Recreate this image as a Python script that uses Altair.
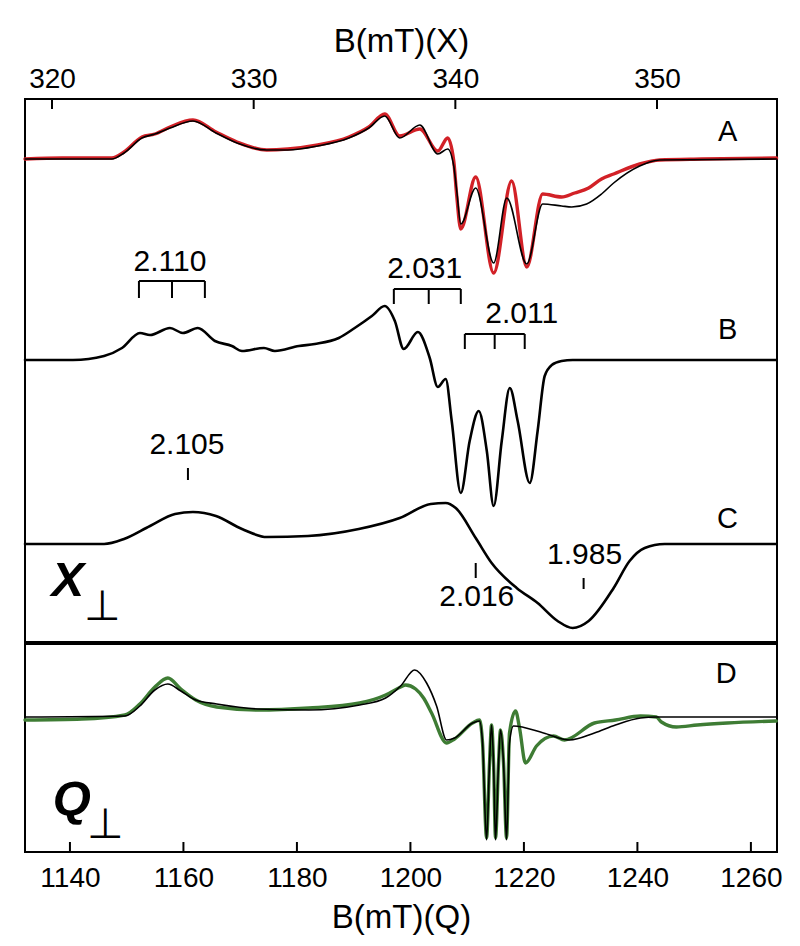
import altair as alt
import pandas as pd

FONT = "Liberation Sans"

# ---------------- axes ----------------
x_ticks = [320, 330, 340, 350]                       # X-band field (mT)
q_ticks = [1140, 1160, 1180, 1200, 1220, 1240, 1260]  # Q-band field (mT)
x_domain = [318.66, 355.95]
q_domain = [1132.08, 1264.6]

# ---------------- trace A: experiment (red) and simulation (black) ----------------
A_sim_B = [318.66, 322.97, 323.57, 324.46, 325.10, 325.85, 326.99, 328.13, 329.17, 330.65,
           331.69, 333.18, 334.72, 335.71, 336.50, 337.24, 338.24, 339.13, 339.62, 339.92,
           340.07, 340.27, 341.01, 341.90, 342.55, 343.54, 344.33, 345.27, 345.77, 346.51,
           347.25, 347.85, 349.14, 350.13, 355.93]
A_sim_I = [0, 0, 6, 21, 25, 31, 38, 26, 16, 9,
           9, 13, 21, 31, 43, 21, 34, 5, 10, -7,
           -32, -65, -29, -104, -39, -105, -45, -47, -48, -45,
           -35, -24, -7, -1, 0]

A_exp_B = [318.66, 320.50, 322.97, 323.57, 324.46, 325.10, 325.85, 326.99, 328.13, 329.17,
           330.65, 331.69, 333.18, 334.72, 335.71, 336.50, 337.24, 338.24, 339.13, 339.62,
           339.92, 340.07, 340.27, 341.01, 341.90, 342.79, 343.54, 344.33, 345.27, 345.92,
           346.61, 347.25, 347.85, 349.14, 350.13, 352.21, 355.93]
A_exp_I = [0, 1, 1, 7, 22, 25, 32, 39, 27, 17,
           9, 10, 14, 22, 32, 45, 23, 30, 8, 21,
           -2, -37, -70, -18, -114, -22, -108, -35, -38, -34,
           -29, -20, -15, -5, -1, 0, 1]

# ---------------- trace B: simulation ----------------
B_B = [318.66, 321.04, 322.58, 323.47, 324.36, 324.86, 325.85, 326.49, 327.23, 328.08,
       328.92, 329.42, 330.51, 331.05, 332.24, 333.03, 334.22, 335.01, 335.86, 336.50,
       337.00, 337.44, 338.14, 338.73, 339.13, 339.52, 339.82, 340.27, 340.71, 341.16,
       341.56, 341.90, 342.30, 342.70, 343.09, 343.69, 344.08, 344.43, 344.78, 345.27,
       345.82, 355.93]
B_I = [0, 0, 4, 12, 27, 25, 32, 27, 32, 19,
       14, 9, 12, 9, 14, 16, 22, 32, 44, 54,
       39, 11, 28, 2, -27, -19, -61, -133, -81, -51,
       -91, -146, -81, -28, -61, -123, -71, -16, -5, -1,
       0, 0]

# ---------------- trace C: simulation ----------------
C_B = [318.66, 322.58, 323.57, 324.86, 326.10, 326.99, 328.13, 329.42, 330.65, 332.69,
       335.21, 337.24, 338.78, 339.52, 340.02, 341.01, 341.80, 343.04, 344.08, 345.07,
       345.82, 346.61, 347.85, 348.64, 349.39, 350.38, 355.93]
C_I = [0, 0, 5, 18, 30, 32, 28, 15, 7, 8,
       15, 26, 40, 41, 36, 6, -19, -44, -59, -77,
       -84, -77, -44, -17, -4, 0, 0]

# ---------------- trace D: Q-band experiment (green) and simulation (black) ----------------
D_sim_B = [1132.08, 1149.68, 1152.32, 1154.96, 1157.25, 1159.54, 1162.18, 1165.88, 1173.10, 1182.08,
           1191.06, 1195.63, 1198.27, 1200.74, 1202.85, 1204.61, 1206.37, 1207.78, 1210.95, 1212.18,
           1212.71, 1213.42, 1213.94, 1214.30, 1214.65, 1215.00, 1215.53, 1215.88, 1216.41, 1216.94,
           1217.46, 1218.17, 1223.45, 1228.03, 1232.43, 1236.13, 1240.53, 1243.35, 1264.47]
D_sim_I = [0, 1, 11, 27, 33, 26, 17, 13, 8, 7,
           12, 19, 31, 47, 34, 11, -23, -21, -6, -4,
           -26, -123, -46, -8, -46, -123, -46, -13, -46, -123,
           -26, -9, -16, -23, -16, -8, -1, 0, 0]

D_exp_B = [1132.08, 1142.11, 1149.68, 1152.32, 1154.96, 1157.25, 1159.54, 1162.18, 1165.88, 1173.10,
           1182.08, 1191.06, 1195.63, 1198.27, 1199.15, 1200.92, 1202.32, 1203.73, 1206.37, 1207.78,
           1210.95, 1212.18, 1212.71, 1213.42, 1213.94, 1214.30, 1214.65, 1215.00, 1215.53, 1215.88,
           1216.41, 1216.94, 1217.46, 1218.52, 1219.23, 1220.28, 1222.22, 1225.21, 1227.15, 1232.43,
           1236.13, 1240.53, 1243.35, 1244.23, 1246.87, 1250.56, 1255.85, 1264.47]
D_exp_I = [-3, -2, 2, 13, 30, 39, 28, 17, 10, 7,
           9, 14, 22, 30, 32, 28, 19, 4, -26, -22,
           -6, -3, -26, -121, -46, -8, -46, -121, -46, -13,
           -46, -121, -16, 6, -11, -46, -29, -19, -23, -6,
           -3, 1, 0, -5, -10, -8, -6, -4]

# vertical offsets of the stacked traces (arbitrary units)
OFF_A, OFF_B, OFF_C, OFF_D = 483, 282, 98, 135
TOP_RANGE = [0, 543]
BOT_RANGE = [0, 208]

# ---------------- annotations ----------------
g_text = ["2.110", "2.031", "2.011", "2.105", "2.016", "1.985"]
g_text_B = [325.85, 338.48, 343.29, 326.69, 341.06, 346.41]
g_text_Y = [371, 364, 319, 188, 36, 78]

g_mark_B = [326.74, 341.01, 346.36]
g_mark_Y1 = [162, 64, 53]
g_mark_Y2 = [174, 79, 64]

bracket_x = [[324.31, 325.95, 327.58], [336.95, 338.68, 340.27], [340.47, 341.95, 343.44]]
bracket_top = [361, 353, 308]
bracket_bot = [344, 338, 293]

letters_top = ["A", "B", "C"]
letters_top_B = [353.5, 353.5, 353.5]
letters_top_Y = [501, 303, 114]
letter_D_B, letter_D_Y = 1255.67, 169

W, H_TOP, H_BOT = 752, 543, 208

# ---------------- scales / axes ----------------
xs_top = alt.Scale(domain=x_domain, nice=False, zero=False)
ys_top = alt.Scale(domain=TOP_RANGE, nice=False, zero=False)
xs_bot = alt.Scale(domain=q_domain, nice=False, zero=False)
ys_bot = alt.Scale(domain=BOT_RANGE, nice=False, zero=False)

axis_common = dict(ticks=False, domain=False, grid=False, labelFontSize=28, labelFont=FONT,
                   labelColor="black", titleFontSize=33, titleFont=FONT,
                   titleFontWeight="normal", titleColor="black", labelFlush=False)
axis_top = alt.Axis(orient="top", title="B(mT)(X)", values=x_ticks, format="d",
                    labelPadding=6, titlePadding=7, **axis_common)
axis_bot = alt.Axis(orient="bottom", title="B(mT)(Q)", values=q_ticks, format="d",
                    labelPadding=12, titlePadding=9, **axis_common)


def xt(field="B"):
    return alt.X(f"{field}:Q", scale=xs_top, axis=axis_top)


def yt(field="Y"):
    return alt.Y(f"{field}:Q", scale=ys_top, axis=None)


def xb(field="B"):
    return alt.X(f"{field}:Q", scale=xs_bot, axis=axis_bot)


def yb(field="Y"):
    return alt.Y(f"{field}:Q", scale=ys_bot, axis=None)


def trace(Bs, Is, off):
    return pd.DataFrame({"B": Bs, "Y": [off + v for v in Is]})


# ---------------- top panel ----------------
line_kw = dict(interpolate="monotone", strokeJoin="round", strokeCap="round")
red = alt.Chart(trace(A_exp_B, A_exp_I, OFF_A)).mark_line(color="#d22127", strokeWidth=3.4, **line_kw).encode(x=xt(), y=yt())
blackA = alt.Chart(trace(A_sim_B, A_sim_I, OFF_A)).mark_line(color="black", strokeWidth=1.6, **line_kw).encode(x=xt(), y=yt())
blackB = alt.Chart(trace(B_B, B_I, OFF_B)).mark_line(color="black", strokeWidth=2.6, **line_kw).encode(x=xt(), y=yt())
blackC = alt.Chart(trace(C_B, C_I, OFF_C)).mark_line(color="black", strokeWidth=2.6, **line_kw).encode(x=xt(), y=yt())

ticks_top = alt.Chart(pd.DataFrame({"B": x_ticks})).mark_rule(color="black", strokeWidth=2).encode(
    x=xt(), y=alt.value(0), y2=alt.value(10))

gtxt = alt.Chart(pd.DataFrame({"B": g_text_B, "Y": g_text_Y, "t": g_text})).mark_text(
    font=FONT, fontSize=30, align="center", baseline="alphabetic", color="black").encode(
    x=xt(), y=yt(), text="t:N")

gmarks = alt.Chart(pd.DataFrame({"B": g_mark_B, "Y": g_mark_Y1, "Y2": g_mark_Y2})).mark_rule(
    color="black", strokeWidth=2).encode(x=xt(), y=yt(), y2="Y2:Q")

br_h = pd.DataFrame({"B": [b[0] for b in bracket_x], "B2": [b[2] for b in bracket_x], "Y": bracket_top})
br_v = pd.DataFrame({"B": [x for b in bracket_x for x in b],
                     "Y": [t for t in bracket_top for _ in range(3)],
                     "Y2": [t for t in bracket_bot for _ in range(3)]})
brh = alt.Chart(br_h).mark_rule(color="black", strokeWidth=2).encode(x=xt(), x2="B2:Q", y=yt())
brv = alt.Chart(br_v).mark_rule(color="black", strokeWidth=2).encode(x=xt(), y=yt(), y2="Y2:Q")

let_top = alt.Chart(pd.DataFrame({"B": letters_top_B, "Y": letters_top_Y, "t": letters_top})).mark_text(
    font=FONT, fontSize=29, align="center", baseline="alphabetic", color="black").encode(
    x=xt(), y=yt(), text="t:N")

xperp = alt.Chart(pd.DataFrame({"B": [320.79], "Y": [46], "t": ["X"]})).mark_text(
    font=FONT, fontSize=49, fontWeight="bold", fontStyle="italic", align="center",
    baseline="alphabetic", color="black").encode(x=xt(), y=yt(), text="t:N")
xperp2 = alt.Chart(pd.DataFrame({"B": [322.48], "Y": [22], "t": ["⊥"]})).mark_text(
    font="DejaVu Sans", fontSize=42, fontWeight=300, align="center",
    baseline="alphabetic", color="black").encode(x=xt(), y=yt(), text="t:N")

top = alt.layer(red, blackA, blackB, blackC, ticks_top, gtxt, gmarks, brh, brv, let_top,
                xperp, xperp2).properties(width=W, height=H_TOP)

# ---------------- bottom panel ----------------
green = alt.Chart(trace(D_exp_B, D_exp_I, OFF_D)).mark_line(color="#3e7c34", strokeWidth=3.4, **line_kw).encode(x=xb(), y=yb())
blackD = alt.Chart(trace(D_sim_B, D_sim_I, OFF_D)).mark_line(color="black", strokeWidth=1.6, **line_kw).encode(x=xb(), y=yb())

ticks_bot = alt.Chart(pd.DataFrame({"B": q_ticks})).mark_rule(color="black", strokeWidth=2).encode(
    x=xb(), y=alt.value(H_BOT), y2=alt.value(H_BOT - 10))

let_d = alt.Chart(pd.DataFrame({"B": [letter_D_B], "Y": [letter_D_Y], "t": ["D"]})).mark_text(
    font=FONT, fontSize=29, align="center", baseline="alphabetic", color="black").encode(
    x=xb(), y=yb(), text="t:N")

qperp = alt.Chart(pd.DataFrame({"B": [1140.35], "Y": [37], "t": ["Q"]})).mark_text(
    font=FONT, fontSize=49, fontWeight="bold", fontStyle="italic", align="center",
    baseline="alphabetic", color="black").encode(x=xb(), y=yb(), text="t:N")
qperp2 = alt.Chart(pd.DataFrame({"B": [1146.3], "Y": [14], "t": ["⊥"]})).mark_text(
    font="DejaVu Sans", fontSize=42, fontWeight=300, align="center",
    baseline="alphabetic", color="black").encode(x=xb(), y=yb(), text="t:N")

bottom = alt.layer(green, blackD, ticks_bot, let_d, qperp, qperp2).properties(width=W, height=H_BOT)

chart = alt.vconcat(top, bottom, spacing=0).configure_view(
    stroke="black", strokeWidth=2).properties(
    padding={"left": 14, "top": 16, "right": 5, "bottom": 5}, background="white")

chart.save("out.html", embed_options={"renderer": "svg", "actions": False})
